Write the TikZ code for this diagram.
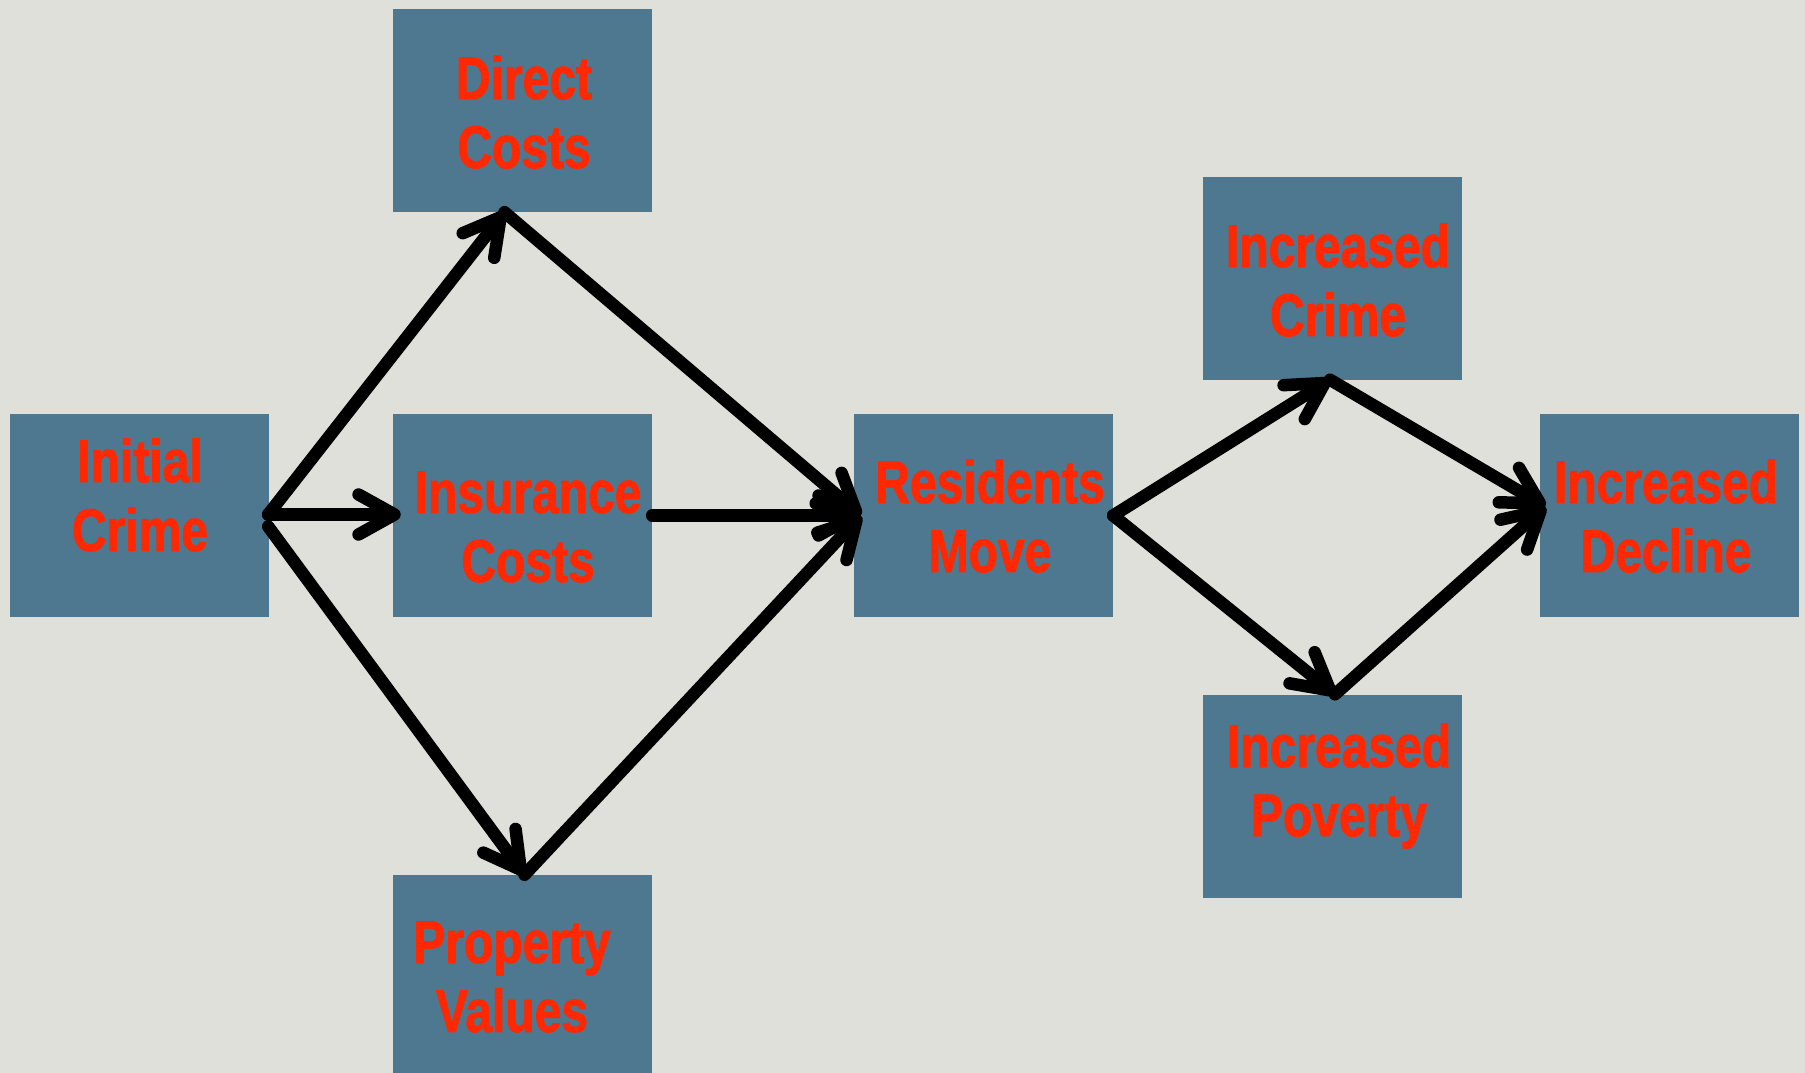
\documentclass[tikz,border=0pt]{standalone}
\usepackage{fontspec}
\newfontfamily\condfont{Liberation Sans}[FakeStretch=0.80,FakeBold=1.5]
\usetikzlibrary{arrows.meta,calc}
\definecolor{bgc}{RGB}{224,224,219}
\definecolor{boxc}{RGB}{78,120,144}
\definecolor{txtc}{RGB}{255,40,0}
\tikzset{
  box/.style={rectangle, fill=boxc, draw=none, minimum width=259pt, minimum height=203pt, inner sep=0pt},
  lbl/.style={text=txtc, align=center, inner sep=0pt, font=\condfont\bfseries\fontsize{60}{69}\selectfont},
  conn/.style={line width=12.5pt, draw=black, line cap=round, -{Straight Barb[length=36pt,width=40pt,round]}},
}
\begin{document}
\begin{tikzpicture}[x=1pt,y=-1pt]
\fill[bgc] (0,0) rectangle (1805,1073);
\useasboundingbox (0,0) rectangle (1805,1073);
\begin{scope}
\clip (0,0) rectangle (1805,1073);
\node[box] (ic) at (139.5,515.5) {};
\node[box] (dc) at (522.5,110.5) {};
\node[box] (ins) at (522.5,515.5) {};
\node[box] (pv) at (522.5,976.5) {};
\node[box] (rm) at (983.5,515.5) {};
\node[box] (icr) at (1332,278) {};
\node[box] (ip) at (1332,796) {};
\node[box] (id) at (1669,515.5) {};
\end{scope}
\node[lbl] (ict) at (140,495) {Initial\\Crime};
\node[lbl] (dct) at (524,112) {Direct\\Costs};
\node[lbl] (inst) at (528,527) {Insurance\\Costs};
\node[lbl] (pvt) at (512,977) {Property\\Values};
\node[lbl] (rmt) at (990,516) {Residents\\Move};
\node[lbl] (icrt) at (1338,280) {Increased\\Crime};
\node[lbl] (ipt) at (1339,786) {Increased\\Poverty};
\node[lbl] (idt) at (1666,516) {Increased\\Decline};
\coordinate (icA) at ($(ic.east)+(-1,-1)$);
\coordinate (icB) at ($(ic.east)+(-1,11)$);
\coordinate (dcS) at ($(dc.south)+(-18,0)$);
\coordinate (insW) at ($(ins.west)+(8,-1)$);
\coordinate (pvN) at ($(pv.north)+(2,0)$);
\coordinate (rmW) at ($(rm.west)+(7,0)$);
\coordinate (icrS) at ($(icr.south)+(-2,0)$);
\coordinate (ipN) at ($(ip.north)+(3,0)$);
\coordinate (idW) at ($(id.west)+(6,-9)$);
\draw[conn] (icA) -- (dcS);
\draw[conn] (icA) -- (insW);
\draw[conn] (icB) -- (pvN);
\draw[conn] (dcS) -- (rmW);
\draw[conn] (ins.east) -- (rmW);
\draw[conn] (pvN) -- (rmW);
\draw[conn] (rm.east) -- (icrS);
\draw[conn] (rm.east) -- (ipN);
\draw[conn] (icrS) -- (idW);
\draw[conn] (ipN) -- (idW);
\end{tikzpicture}
\end{document}
